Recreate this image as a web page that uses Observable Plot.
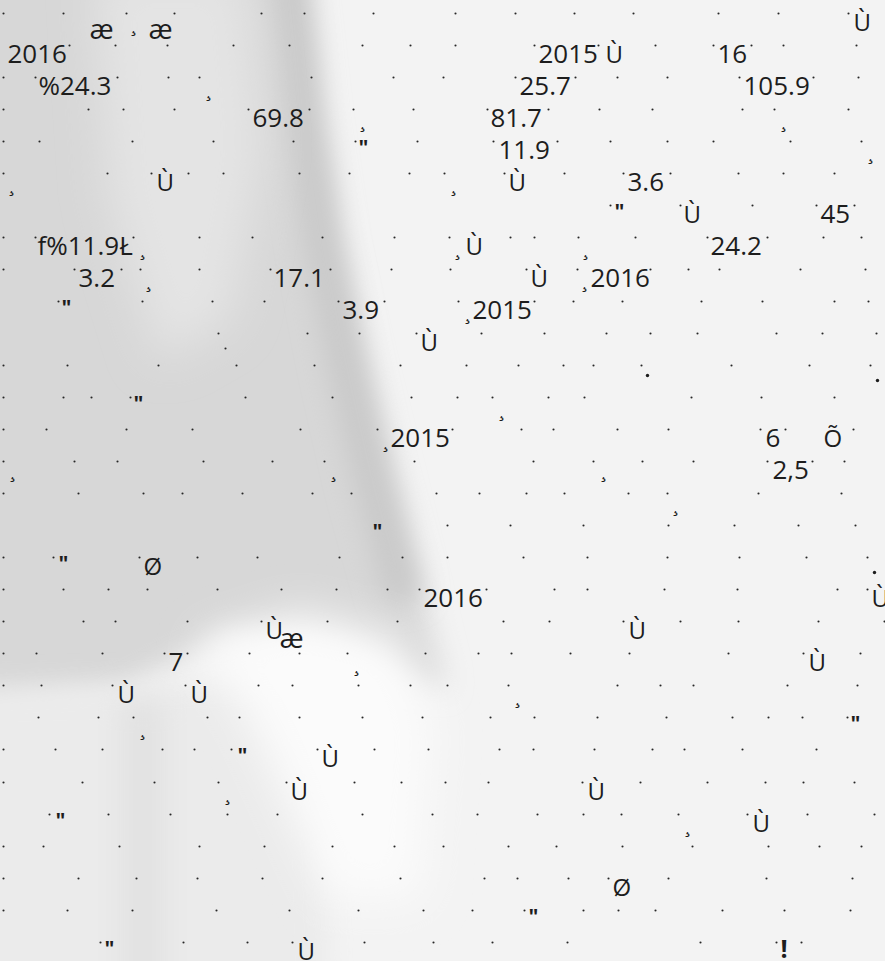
<!DOCTYPE html>
<html><head><meta charset="utf-8">
<script src="https://cdn.jsdelivr.net/npm/d3@7"></script>
<script src="https://cdn.jsdelivr.net/npm/@observablehq/plot@0.6"></script>
<style>
html,body{margin:0;padding:0;background:#f2f2f2;}
#chart{width:885px;height:961px;overflow:hidden;}
</style></head><body><div id="chart"></div>
<script>
// rows of the page (y of each dotted line)
const rowY = [13,45,77,109,141,173,205,237,269,301,333,365,397,429,461,493,525,557,589,621,653,685,717,749,782,814,846,878,910,942];
// dot positions on each row
const dotX = [
  [3,63,126,174,261,304,373,455,515,574,633,718,778,848],
  [69,115,167,233,289,362,410,455,534,598,655,713,751,783,856],
  [3,35,117,168,199,311,393,443,515,575,617,667,739,813,858],
  [3,88,123,174,248,309,353,413,487,548,599,652,742,774,848],
  [3,39,132,213,293,355,417,493,557,610,667,713,790,861],
  [3,107,151,188,223,299,349,409,444,504,564,623,670,738,783,834],
  [610,680,752,816,854],
  [3,35,133,199,252,322,394,449,510,534,578,635,707,767,823,861],
  [3,74,121,140,199,270,330,391,450,526,577,650,688,719,800,865],
  [58,142,212,264,338,384,458,534,573,622,701,762,834,868],
  [218,307,359,416,481,544,606,650,697,776,822,876],
  [3,67,158,236,314,400,466,518,563,593,641,731,809,870],
  [3,63,91,130,245,332,411,457,492,548,584,691,761,834],
  [3,46,126,192,300,377,452,521,553,617,668,760,785,853],
  [3,74,117,203,272,324,414,533,593,642,693,767,812,844],
  [3,78,143,182,242,312,351,436,479,526,564,628,667,758,841],
  [447,510,583,668,734,798,855],
  [3,53,139,197,257,339,402,447,523,587,667,739,806,867],
  [3,63,108,147,217,281,336,387,419,486,554,587,664,737,837,867],
  [3,83,115,187,261,327,397,503,549,623,680,738,818,884],
  [3,36,102,164,187,249,299,347,425,478,511,570,629,728,803,860],
  [3,41,112,185,258,292,358,410,447,508,617,660,693,787,857],
  [38,98,133,207,239,299,362,422,490,534,597,666,732,768,802,847],
  [3,55,102,162,194,231,317,374,428,499,533,594,652,684,742,816],
  [3,82,154,218,286,354,401,445,488,582,640,707,765,803,854],
  [49,108,170,227,277,362,432,477,537,583,621,678,747,807,874],
  [3,43,119,199,264,332,394,443,508,556,622,692,768,819,861],
  [3,78,136,197,262,322,400,484,517,568,608,668,766,852],
  [3,67,132,216,289,358,423,472,524,583,618,655,722,784,850],
  [100,183,247,292,364,433,492,567,700,776,801]
];
const strayDots = [{x:225,y:348}];
const heavyDots = [{x:647,y:375},{x:877,y:380},{x:874,y:572}];

// numeric fragments: text, x start, row index
const numberText = ["2016","%24.3","69.8","2015","16","25.7","105.9","81.7","11.9","3.6","45","f%11.9Ł","24.2","3.2","17.1","2016","3.9","2015","2015","6","2,5","2016","7"];
const numberX    = [7,38,252,538,717,519,743,490,498,627,820,37,710,78,273,590,342,472,390,765,772,423,168];
const numberRow  = [1,2,3,1,1,2,2,3,4,5,6,7,7,8,8,8,9,9,13,13,14,18,20];

// letter fragments
const letterText = ["Ù","Ù","Ù","Ù","Ù","Ù","Ù","Ù","Õ","Ø","Ù","Ù","Ù","Ù","Ù","Ù","Ù","Ù","Ù","Ù","Ø","Ù"];
const letterX    = [853,605,156,508,683,465,530,420,823,143,871,265,628,808,117,190,321,290,587,752,612,297];
const letterRow  = [0,1,5,5,6,7,8,10,13,17,18,19,19,20,21,21,23,24,24,25,27,29];

// "æ" fragments: x start, baseline
const aeX = [89,148,279];
const aeBase = [38,38,647];

// quote marks: x start, row index
const quoteX   = [358,614,61,133,372,58,850,237,55,528,104];
const quoteRow = [4,6,9,12,16,17,22,23,25,28,29];

// small hook marks: centre x, centre y
const hookX = [133,208,11,362,783,453,870,142,148,457,585,584,467,385,501,12,333,603,675,356,517,142,227,687];
const hookY = [32,97,192,128,128,192,160,256,288,256,256,288,320,448,417,478,478,478,512,672,704,736,801,833];

// exclamation mark
const bangX = [780];
const bangRow = [29];

const W = 885, H = 961;
const dots = rowY.flatMap((y, i) => dotX[i].map(x => ({x, y})));
const numbers = numberText.map((t, i) => ({t, x: numberX[i], y: rowY[numberRow[i]]}));
const letters = letterText.map((t, i) => ({t, x: letterX[i], y: rowY[letterRow[i]]}));
const aes = aeX.map((x, i) => ({t: "æ", x, y: aeBase[i]}));
const quotes = quoteX.map((x, i) => ({t: "\"", x, y: rowY[quoteRow[i]]}));
const hooks = hookX.map((x, i) => ({t: "¸", x, y: hookY[i]}));
const bangs = bangX.map((x, i) => ({t: "!", x, y: rowY[bangRow[i]]}));

const ink = "#1d1d1d";
const font = "'Open Sans', 'Noto Sans', sans-serif";

const plot = Plot.plot({
  width: W, height: H, margin: 0,
  x: {domain: [0, W], range: [0, W], axis: null},
  y: {domain: [0, H], range: [0, H], axis: null},
  style: {background: "transparent", fontFamily: font},
  marks: [
    Plot.dot(dots, {x: "x", y: "y", r: 1.05, fill: "#262626", stroke: "none"}),
    Plot.dot(strayDots, {x: "x", y: "y", r: 1.05, fill: "#262626", stroke: "none"}),
    Plot.dot(heavyDots, {x: "x", y: "y", r: 1.7, fill: "#1d1d1d", stroke: "none"}),
    Plot.text(numbers, {x: "x", y: "y", text: "t", textAnchor: "start", lineAnchor: "bottom", dy: 17, fontSize: 26, fill: ink, fontFamily: font}),
    Plot.text(letters, {x: "x", y: "y", text: "t", textAnchor: "start", lineAnchor: "bottom", dy: 17, fontSize: 24, fill: ink, fontFamily: font}),
    Plot.text(aes, {x: "x", y: "y", text: "t", textAnchor: "start", lineAnchor: "bottom", fontSize: 28, fill: ink, fontFamily: font}),
    Plot.text(quotes, {x: "x", y: "y", text: "t", textAnchor: "start", lineAnchor: "top", dy: -1, fontSize: 21, fontWeight: "bold", fill: ink, fontFamily: font}),
    Plot.text(hooks, {x: "x", y: "y", text: "t", textAnchor: "middle", lineAnchor: "bottom", dy: -2, fontSize: 20, fill: ink, fontFamily: font}),
    Plot.text(bangs, {x: "x", y: "y", text: "t", textAnchor: "start", lineAnchor: "top", dy: -2, fontSize: 25, fontWeight: "bold", fill: ink, fontFamily: font})
  ]
});

// soft photographic background behind the marks
const svg = d3.select(plot);
const bg = svg.insert("g", ":first-child").attr("class", "bg");
const defs = bg.append("defs");
[["b14", 14], ["b22", 22]].forEach(([id, s]) => {
  defs.append("filter").attr("id", id).attr("x", "-50%").attr("y", "-50%").attr("width", "200%").attr("height", "200%")
    .append("feGaussianBlur").attr("stdDeviation", s);
});
bg.append("rect").attr("width", W).attr("height", H).attr("fill", "#f3f3f3");
bg.append("polygon").attr("points", "-40,-40 302,-40 318,120 338,240 365,360 395,480 428,620 445,690 330,640 230,630 120,690 -40,705")
  .attr("fill", "#d7d7d7").attr("filter", "url(#b14)");
bg.append("polyline").attr("points", "288,-30 305,120 322,240 345,360 372,480 405,600")
  .attr("fill", "none").attr("stroke", "#c8c8c8").attr("stroke-width", 34).attr("filter", "url(#b14)");
bg.append("polygon").attr("points", "95,-30 245,-30 262,150 230,320 160,360 110,200")
  .attr("fill", "#e4e4e4").attr("filter", "url(#b22)");
bg.append("polygon").attr("points", "-40,690 320,680 330,1000 -40,1000")
  .attr("fill", "#ebebeb").attr("filter", "url(#b14)");
bg.append("rect").attr("x", 120).attr("y", 700).attr("width", 45).attr("height", 300)
  .attr("fill", "#e2e2e2").attr("filter", "url(#b14)");
bg.append("polygon").attr("points", "200,645 300,612 400,640 432,720 420,900 330,900 250,720")
  .attr("fill", "#fbfbfb").attr("filter", "url(#b22)");

document.getElementById("chart").appendChild(plot);
</script>
</body></html>
